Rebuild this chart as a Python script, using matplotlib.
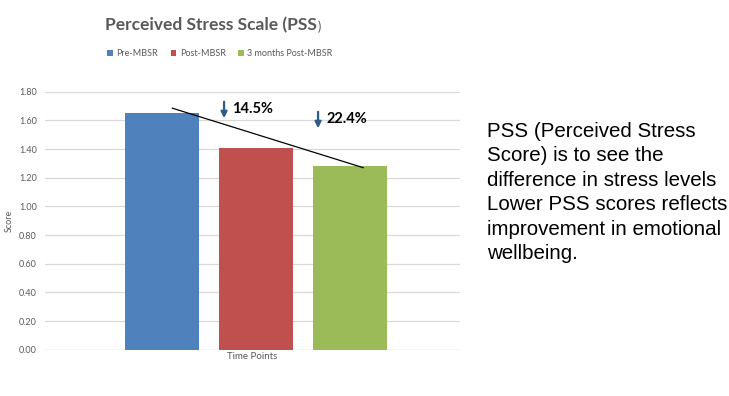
import numpy as np
import matplotlib.pyplot as plt

# Data
groups = ["Pre-MBSR", "Post-MBSR", "3 months Post-MBSR"]
scores = [1.65, 1.41, 1.28]
colors = ["#4F81BD", "#C0504D", "#9BBB59"]
yticks = [0.0, 0.2, 0.4, 0.6, 0.8, 1.0, 1.2, 1.4, 1.6, 1.8]
drops = ["14.5%", "22.4%"]

# Hand-drawn trend line endpoints (data coords)
trend_x = [0.11, 2.14]
trend_y = [1.685, 1.27]
# arrow tops for the drop labels (data coords)
arrow_x = [0.66, 1.66]
arrow_top = [1.73, 1.66]

note = ("PSS (Perceived Stress\nScore) is to see the\ndifference in stress levels\n"
        "Lower PSS scores reflects\nimprovement in emotional\nwellbeing.")

chart_font = ["Lato", "DejaVu Sans"]
gray = "#595959"

fig = plt.figure(figsize=(7.29, 3.96), dpi=100)
ax = fig.add_axes([45 / 729, 1 - 349.7 / 396, 415 / 729, 258 / 396])

x = np.arange(len(scores))
for i in range(len(scores)):
    ax.bar(x[i], scores[i], width=0.79, color=colors[i], label=groups[i], zorder=2)

ax.plot(trend_x, trend_y, color="black", lw=0.9, zorder=3)

# percent-drop annotations with down arrows
for i, txt in enumerate(drops):
    xa, ya = arrow_x[i], arrow_top[i]
    ax.annotate("", xy=(xa, ya - 0.115), xytext=(xa, ya),
                arrowprops=dict(arrowstyle="-|>", color="#2E5C8A", lw=1.6,
                                mutation_scale=9, shrinkA=0, shrinkB=0), zorder=4)
    ax.text(xa + 0.085, ya - 0.05, txt, fontsize=10.5, fontweight="bold",
            family=chart_font, va="center", ha="left", color="black")

ax.set_xlim(-1.245, 3.17)
ax.set_ylim(0, 1.8)
ax.set_yticks(yticks)
ax.set_yticklabels([f"{v:.2f}" for v in yticks], fontsize=6.5, color=gray, family=chart_font)
ax.set_xticks([])
ax.tick_params(axis="y", length=0, pad=6)
ax.grid(axis="y", color="#D9D9D9", lw=0.9, zorder=0)
for s in ax.spines.values():
    s.set_visible(False)
ax.axhline(0, color="#D9D9D9", lw=0.9, zorder=1)
ax.set_ylabel("Score", fontsize=6.5, color=gray, family=chart_font)
ax.yaxis.set_label_coords(-0.075, 0.5)
ax.set_xlabel("Time Points", fontsize=7, color=gray, family=chart_font, labelpad=2)

# title, with the smaller closing bracket as in the original
t = fig.text(105 / 729, 1 - 25 / 396, "Perceived Stress Scale (PSS", ha="left", va="center",
             fontsize=12.5, fontweight="bold", color=gray, family=chart_font)
fig.canvas.draw()
bb = t.get_window_extent()
fig.text(bb.x1 / 729 + 0.001, 1 - 27 / 396, ")", ha="left", va="center",
         fontsize=9, color=gray, family=chart_font)

fig.legend(loc="center", bbox_to_anchor=(220 / 729, 1 - 54 / 396), ncol=3, frameon=False,
           prop={"family": chart_font, "size": 6.5}, handlelength=0.6, handleheight=0.6,
           columnspacing=1.4, handletextpad=0.4, labelcolor=gray)

fig.text(487 / 729, 1 - 122 / 396, note, ha="left", va="top", fontsize=14.8,
         family=["Liberation Sans", "DejaVu Sans"], color="black", linespacing=1.36)

fig.savefig("out.png", dpi=100)
